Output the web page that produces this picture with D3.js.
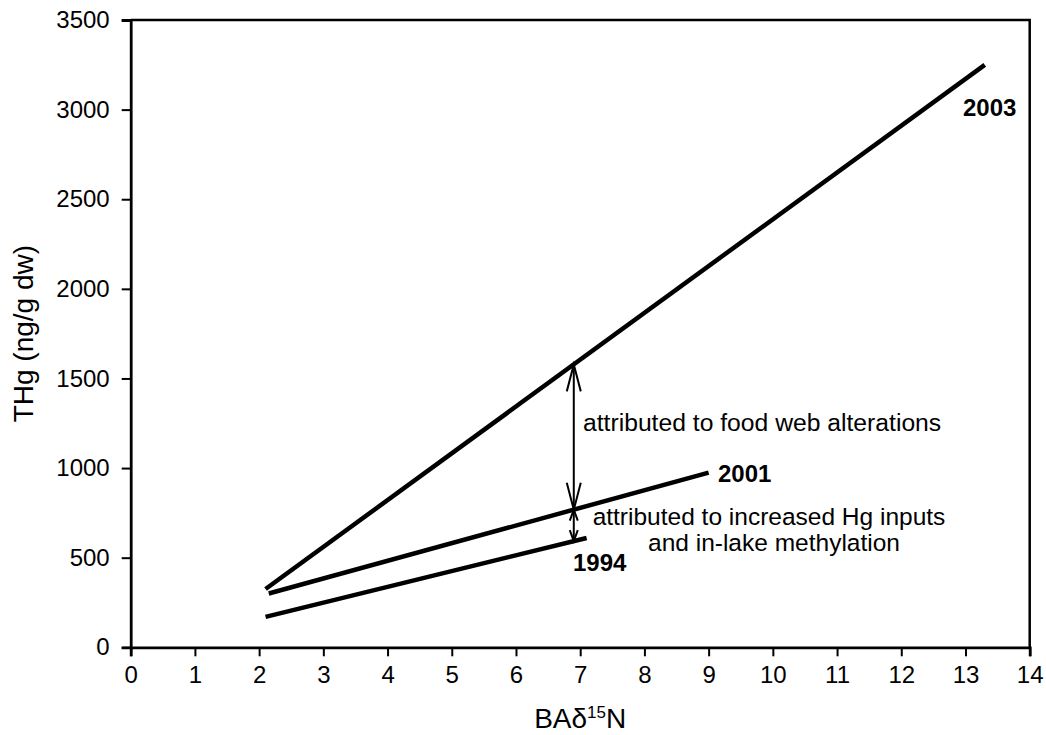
<!DOCTYPE html>
<html>
<head>
<meta charset="utf-8">
<script src="https://cdn.jsdelivr.net/npm/d3@7/dist/d3.min.js"></script>
<style>
  html, body { margin: 0; padding: 0; background: #fff; }
  svg { display: block; font-family: "Liberation Sans", Arial, sans-serif; }
</style>
</head>
<body>
<svg id="chart" width="1046" height="735"></svg>
<script>
// Regression lines of THg against baseline-adjusted δ15N, by sampling year
const years = ["1994", "2001", "2003"];
const line1994 = [[2.1, 170], [7.1, 610]];
const line2001 = [[2.15, 300], [9.0, 975]];
const line2003 = [[2.1, 325], [13.3, 3250]];
const seriesLines = [line1994, line2001, line2003];

// x position where the differences between years are marked
const arrowX = 6.9;

const xTicks = [0, 1, 2, 3, 4, 5, 6, 7, 8, 9, 10, 11, 12, 13, 14];
const yTicks = [0, 500, 1000, 1500, 2000, 2500, 3000, 3500];

const svg = d3.select("#chart");
const plotLeft = 130.7, plotRight = 1029.7, plotTop = 20, plotBottom = 647.3;

const x = d3.scaleLinear().domain([0, 14]).range([plotLeft, plotRight]);
const y = d3.scaleLinear().domain([0, 3500]).range([plotBottom, plotTop]);

// value of a straight line at position xv
function lineAt(pts, xv) {
  const [p0, p1] = pts;
  return p0[1] + (xv - p0[0]) * (p1[1] - p0[1]) / (p1[0] - p0[0]);
}

// frame (top and right edges)
svg.append("path")
  .attr("d", `M${plotLeft},${plotTop}H${plotRight}V${plotBottom}`)
  .attr("fill", "none").attr("stroke", "#000").attr("stroke-width", 2.5);

// axes
const xAxis = svg.append("g")
  .attr("transform", `translate(0,${plotBottom})`)
  .call(d3.axisBottom(x).tickValues(xTicks).tickSize(9).tickPadding(10).tickFormat(d3.format("d")));
const yAxis = svg.append("g")
  .attr("transform", `translate(${plotLeft},0)`)
  .call(d3.axisLeft(y).tickValues(yTicks).tickSize(9).tickPadding(12).tickFormat(d3.format("d")));

[xAxis, yAxis].forEach(g => {
  g.select(".domain").attr("stroke", "#000").attr("stroke-width", 2.8);
  g.selectAll(".tick line").attr("stroke", "#000").attr("stroke-width", 2);
  g.selectAll(".tick text")
    .attr("fill", "#000")
    .style("font-size", "24px")
    .style("font-family", "'Liberation Sans', Arial, sans-serif");
});

// axis titles
svg.append("text")
  .attr("transform", `translate(33,${(plotTop + plotBottom) / 2}) rotate(-90)`)
  .attr("text-anchor", "middle")
  .style("font-size", "28px")
  .text("THg (ng/g dw)");

const xt = svg.append("text")
  .attr("x", (plotLeft + plotRight) / 2)
  .attr("y", 728)
  .attr("text-anchor", "middle")
  .style("font-size", "28px");
xt.append("tspan").text("BAδ");
xt.append("tspan").attr("dy", -10).style("font-size", "17px").text("15");
xt.append("tspan").attr("dy", 10).text("N");

// regression lines
const lineGen = d3.line().x(d => x(d[0])).y(d => y(d[1]));
svg.append("g").selectAll("path")
  .data(seriesLines)
  .join("path")
  .attr("d", lineGen)
  .attr("fill", "none")
  .attr("stroke", "#000")
  .attr("stroke-width", 4.5)
  .attr("stroke-linecap", "butt");

// year labels
const yearLabelPos = [[573, 571], [718, 482], [963, 116]];
svg.append("g").selectAll("text")
  .data(years)
  .join("text")
  .attr("x", (d, i) => yearLabelPos[i][0])
  .attr("y", (d, i) => yearLabelPos[i][1])
  .style("font-size", "24px")
  .style("font-weight", "bold")
  .text(d => d);

// double-headed arrows between the year lines
function doubleArrow(v0, v1, headLen, headHalf) {
  const px = x(arrowX);
  const y0 = y(v0), y1 = y(v1);
  const g = svg.append("g").attr("fill", "none").attr("stroke", "#000").attr("stroke-width", 2);
  g.append("line").attr("x1", px).attr("x2", px).attr("y1", y0).attr("y2", y1);
  g.append("path").attr("d", `M${px - headHalf},${y0 + headLen}L${px},${y0}L${px + headHalf},${y0 + headLen}`);
  g.append("path").attr("d", `M${px - headHalf},${y1 - headLen}L${px},${y1}L${px + headHalf},${y1 - headLen}`);
}
const v2003 = lineAt(line2003, arrowX);
const v2001 = lineAt(line2001, arrowX);
const v1994 = lineAt(line1994, arrowX);
doubleArrow(v2003, v2001, 27, 7);
doubleArrow(v2001, v1994, 11, 4);

// annotations
svg.append("text")
  .attr("x", 583)
  .attr("y", 431)
  .style("font-size", "24.7px")
  .text("attributed to food web alterations");

const ann2 = svg.append("text")
  .attr("text-anchor", "middle")
  .style("font-size", "24.5px");
ann2.append("tspan").attr("x", 769).attr("y", 525).text("attributed to increased Hg inputs");
ann2.append("tspan").attr("x", 774).attr("y", 551).text("and in-lake methylation");
</script>
</body>
</html>
